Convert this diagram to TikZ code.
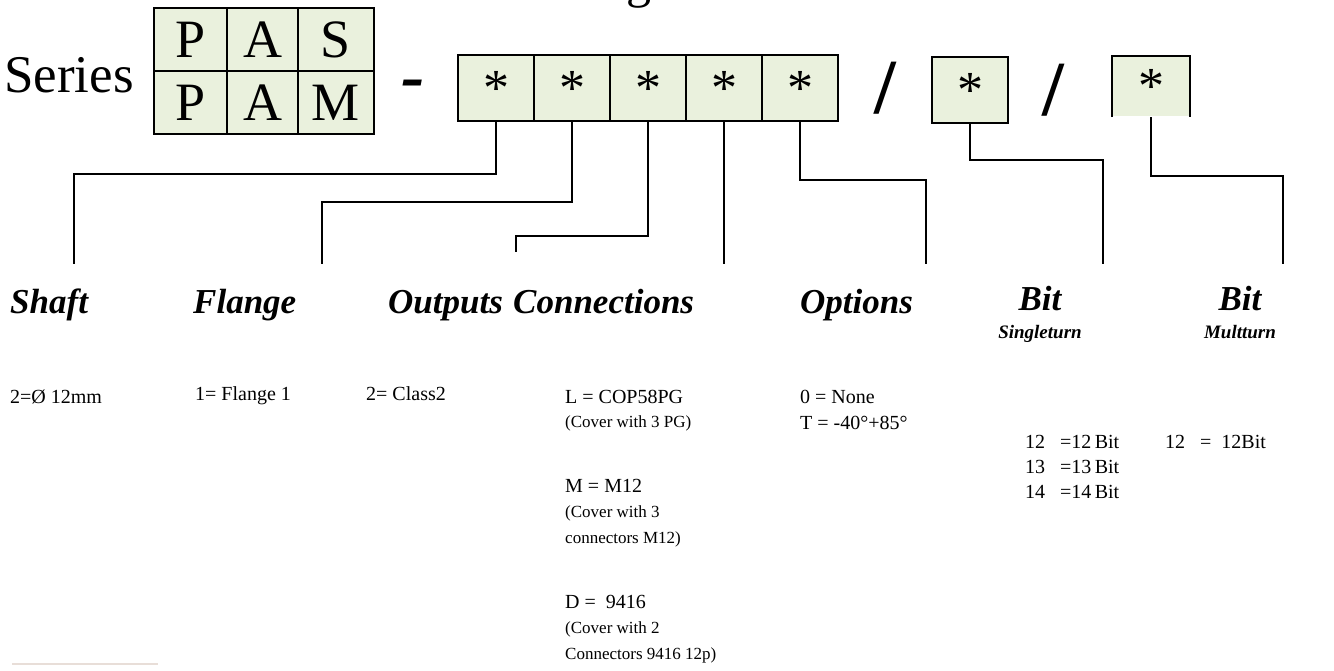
\documentclass[tikz,border=0pt]{standalone}
\usepackage{fontspec}
\setmainfont{Liberation Serif}
\definecolor{boxfill}{HTML}{EAF1DD}
\definecolor{rulecol}{HTML}{E8DED8}
\begin{document}
\begin{tikzpicture}[x=1pt,y=-1pt,
  pcell/.style={draw=black, line width=2pt, fill=boxfill, minimum height=63pt, inner sep=0pt, anchor=north west, font=\fontsize{54}{54}\selectfont},
  starbox/.style={draw=black, line width=2pt, fill=boxfill, minimum width=76pt, minimum height=66pt, inner sep=0pt, anchor=north west, font=\fontsize{52}{52}\selectfont},
  conn/.style={line width=1.6pt},
  head/.style={anchor=base west, inner sep=0pt, font=\fontsize{35}{35}\selectfont\bfseries\itshape},
  headc/.style={anchor=base, inner sep=0pt, font=\fontsize{35}{35}\selectfont\bfseries\itshape},
  sublab/.style={anchor=base, inner sep=0pt, font=\fontsize{19}{19}\selectfont\bfseries\itshape},
  val/.style={anchor=base west, inner sep=0pt, font=\fontsize{20}{20}\selectfont},
  note/.style={anchor=base west, inner sep=0pt, font=\fontsize{17}{17}\selectfont},
  sep/.style={anchor=base, inner sep=0pt, font=\fontsize{78}{78}\selectfont\bfseries}
]
\useasboundingbox (0,0) rectangle (1334,670);

% cut-off title
\begin{scope}
\clip (0,0) rectangle (1334,670);
\node[anchor=base, inner sep=0pt, font=\fontsize{50}{50}\selectfont] (title) at (639,-3) {g};
\end{scope}

% Series
\node[anchor=base west, inner sep=0pt, font=\fontsize{53}{53}\selectfont] (series) at (4,92) {Series};

% PAS / PAM grid
\node[pcell, minimum width=73pt] (p1) at (153,7) {P};
\node[pcell, minimum width=71pt] (p2) at (226,7) {A};
\node[pcell, minimum width=76pt] (p3) at (297,7) {S};
\node[pcell, minimum width=73pt] (m1) at (153,70) {P};
\node[pcell, minimum width=71pt] (m2) at (226,70) {A};
\node[pcell, minimum width=76pt] (m3) at (297,70) {M};

% dash
\node[anchor=base, inner sep=0pt, font=\fontsize{70}{70}\selectfont\bfseries\itshape] (dash) at (413,99) {-};

% star boxes
\node[starbox] (s1) at (457,54) {*};
\node[starbox] (s2) at (533,54) {*};
\node[starbox] (s3) at (609,54) {*};
\node[starbox] (s4) at (685,54) {*};
\node[starbox] (s5) at (761,54) {*};
\node[sep] (sl1) at (885,113) {/};
\node[starbox] (s6) at (931,56) {*};
\node[sep] (sl2) at (1053,115) {/};
\node[starbox, draw=none, minimum height=59pt] (s7) at (1112,56) {*};
\draw[line width=2pt] (s7.south west) -- (s7.north west) -- (s7.north east) -- (s7.south east);

% connector ends
\coordinate (e1) at (74,264);
\coordinate (e2) at (322,264);
\coordinate (e3) at (516,252);
\coordinate (e4) at (722,264);
\coordinate (e5) at (926,264);
\coordinate (e6) at (1103,264);
\coordinate (e7) at (1283,264);

\draw[conn] (s1.south) -- ++(0,52) -| (e1);
\draw[conn] (s2.south) -- ++(0,80) -| (e2);
\draw[conn] (s3.south) -- ++(0,114) -| (e3);
\draw[conn] (s4.south) -- (s4.south |- e4);
\draw[conn] (s5.south) -- ++(0,58) -| (e5);
\draw[conn] (s6.south) -- ++(0,36) -| (e6);
\draw[conn] (s7.south) -- ++(0,59) -| (e7);

% headings
\node[head] (hshaft) at (10,313) {Shaft};
\node[head] (hflange) at (193,313) {Flange};
\node[head] (houtputs) at (388,313) {Outputs};
\node[head] (hconn) at (513,313) {Connections};
\node[head] (hopt) at (800,313) {Options};
\node[headc] (hbit1) at (1040,310) {Bit};
\node[sublab] (hsingle) at (1040,338) {Singleturn};
\node[headc] (hbit2) at (1240,310) {Bit};
\node[sublab] (hmulti) at (1240,338) {Multturn};

% values
\node[val] (v1) at (10,403) {2=Ø 12mm};
\node[val] (v2) at (195,400) {1= Flange 1};
\node[val] (v3) at (366,400) {2= Class2};
\node[val] (cL) at (565,403) {L = COP58PG};
\node[note] (cL2) at (565,427) {(Cover with 3 PG)};
\node[val] (cM) at (565,492) {M = M12};
\node[note] (cM2) at (565,517) {(Cover with 3};
\node[note] (cM3) at (565,543) {connectors M12)};
\node[val] (cD) at (565,608) {D =\ \ 9416};
\node[note] (cD2) at (565,633) {(Cover with 2};
\node[note] (cD3) at (565,659) {Connectors 9416 12p)};
\node[val] (o1) at (800,403) {0 = None};
\node[val] (o2) at (800,429) {T = -40°+85°};
\node[val] (b12) at (1025,448) {12\ \ \ =12\,Bit};
\node[val] (b13) at (1025,473) {13\ \ \ =13\,Bit};
\node[val] (b14) at (1025,498) {14\ \ \ =14\,Bit};
\node[val] (m12) at (1165,448) {12\ \ \ = \ 12Bit};

% footnote rule
\draw[rulecol, line width=1.5pt] (12,664) coordinate (r1) -- (158,664) coordinate (r2);
\end{tikzpicture}
\end{document}
